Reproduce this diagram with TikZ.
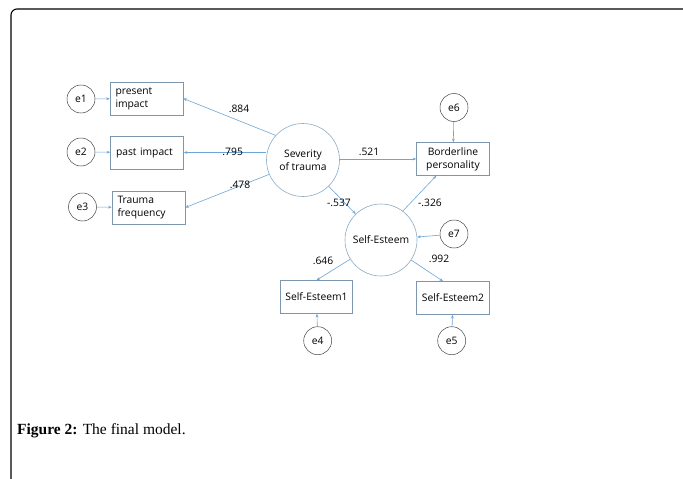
\documentclass[tikz,border=0pt]{standalone}
\usepackage{fontspec}
\setmainfont{Liberation Serif}
\newfontfamily\diagfont{Open Sans}
\usetikzlibrary{arrows.meta,calc}
\definecolor{arrowc}{RGB}{110,165,215}
\definecolor{boxc}{RGB}{125,150,175}
\definecolor{latc}{RGB}{140,170,195}
\definecolor{errc}{RGB}{70,70,70}
\begin{document}
\begin{tikzpicture}[x=1pt,y=-1pt,
  every node/.style={font=\diagfont\fontsize{10.3}{13}\selectfont},
  obs/.style={draw=boxc,line width=0.6pt,minimum width=73pt,minimum height=33pt,inner sep=0pt},
  obsl/.style={obs,align=left,text width=62pt},
  lat/.style={circle,draw=latc,line width=0.6pt,minimum size=73pt,inner sep=0pt,align=center},
  err/.style={circle,draw=errc,line width=0.5pt,minimum size=28pt,inner sep=0pt},
  conn/.style={draw=arrowc,line width=0.6pt,-{Stealth[length=3.5pt,width=2.8pt]}},
  lbl/.style={inner sep=0pt}]
\useasboundingbox (0,0) rectangle (683,479);
\fill[white] (0,0) rectangle (683,479);
\draw[line width=1.1pt,rounded corners=6pt] (11,479) -- (11,9) -- (683,9);

% nodes
\node[err] (e1) at (81,99) {e1};
\node[err] (e2) at (81,152) {e2};
\node[err] (e3) at (82.5,207) {e3};
\node[obsl] (pi) at (146.5,98.5) {present\\impact};
\node[obsl] (pa) at (147,152.5) {past impact};
\node[obsl] (tf) at (148.5,207.5) {Trauma\\frequency};
\node[lat] (sev) at (303,160) {Severity\\of trauma};
\node[obs,align=center] (bp) at (453,159) {Borderline\\personality};
\node[err] (e6) at (454,107.5) {e6};
\node[lat,minimum size=72pt] (se) at (381,240) {Self-Esteem};
\node[err] (e7) at (454,234) {e7};
\node[obs,minimum width=72pt] (se1) at (316.5,297) {Self-Esteem1};
\node[obs] (se2) at (453,298) {Self-Esteem2};
\node[err] (e4) at (317.7,340.7) {e4};
\node[err] (e5) at (451.7,340.7) {e5};

% connectors
\draw[conn] (e1) -- (pi);
\draw[conn] (e2) -- (pa);
\draw[conn] (e3) -- (tf);
\draw[conn] (sev.138) -- (pi.east);
\draw[conn] (sev.west |- pa.east) -- (pa.east);
\draw[conn] (sev.203) -- (tf.east);
\draw[conn] (sev.east |- bp.west) -- (bp.west);
\draw[conn] (sev) -- (se);
\draw[conn] (se.53) -- ($(bp.south west)+(20,0)$);
\draw[conn] (e6) -- (bp);
\draw[conn] (e7) -- (se);
\draw[conn] (se) -- (se1.north);
\draw[conn] (se) -- ($(se2.north)+(-10,0)$);
\draw[conn] (e4) -- (se1);
\draw[conn] (e5) -- (se2);

% labels
\node[lbl] (l1) at (239,109) {.884};
\node[lbl] (l2) at (232.7,151.7) {.795};
\node[lbl] (l3) at (240,185) {.478};
\node[lbl] (l4) at (369,151.7) {.521};
\node[lbl] (l5) at (339,202.7) {-.537};
\node[lbl] (l6) at (430,203) {-.326};
\node[lbl] (l7) at (323,260.7) {.646};
\node[lbl] (l8) at (439,259) {.992};

% caption
\node[anchor=base west,inner sep=0pt,font=\fontsize{15.5}{18}\selectfont] (cap) at (17,434) {\textbf{Figure 2:} The final model.};
\end{tikzpicture}
\end{document}
